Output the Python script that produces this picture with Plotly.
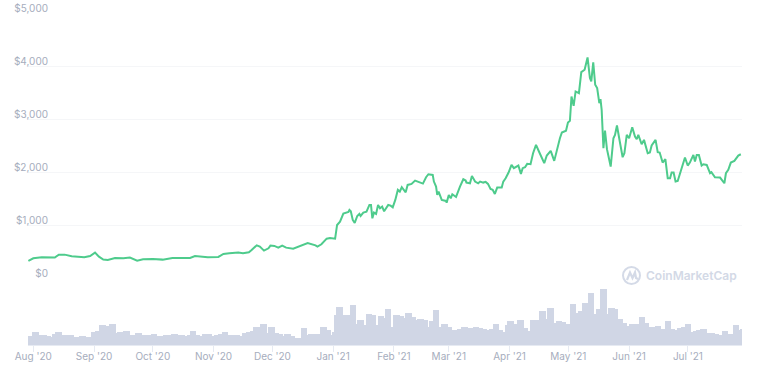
import pandas as pd
import plotly.graph_objects as go

EPOCH = pd.Timestamp("2020-08-01")

price_days = [-2.5,0,4.3,8.5,11,13,16,19.6,23,26,29,31.5,33.5,35.7,38,41.7,46,49.3,53,56,61,66,71,75.7,80,82.5,86,89,94.4,97,100,104.6,107,110,111.4,114,115.6,117.7,120,121,123,125,127,129,132.6,135,138,140,144,145,147,149.7,151.4,154,155,156.5,158.2,
 160.8,161.3,162,163,164,165.3,166.4,167,168.4,170,171.5,172.3,173,173.8,174.9,175.9,176.9,178,179,181.1,182.3,183.4,184.7,186,187,188,190,191,193,194.8,196.8,198.8,200.4,201.6,203.8,204.4,205.5,206.1,206.8,208.4,210.6,210.9,212,213,213.8,215.7,217.7,219.4,220.6,221,222.8,223.8,225.4,227,228,229.6,230.8,232,233.3,234.4,235.5,236.7,239,239.8,241,242.5,
 244,245.2,247.5,248.8,249.7,250.9,252,253.7,255,256.5,258,260.7,262,264,265.8,267.3,268.7,269.7,271.8,272.8,273.8,274.6,275.7,276.7,278.4,279.6,281.3,282.8,284,284.7,285.7,286.7,287.7,288.8,289.4,290,
 290.9,291.7,292.7,294.6,296,296.8,297.8,299.4,300.7,301.6,302.8,304,305.6,307,307.9,308.7,310.4,311.6,313.5,314.6,315.5,317.5,318.6,319.6,321.1,322.5,323.7,324.9,325.7,326.7,327.7,328.8,330.5,332.5,333.9,335,336.8,337.6,338.5,339.6,341,341.9,343.6,345.3,346,347.8,350.4,351.5,352.6,353.4,354.6,355.9,357.7,359.7,361]
price_usd = [327,377,396,396,390,446,446,415,408,396,421,484,408,352,345,383,377,390,333,358,364,352,383,377,383,421,415,396,402,459,471,484,471,490,534,622,597,522,566,616,610,578,616,578,559,597,647,666,622,597,641,747,760,747,1005,1068,1219,
 1251,1288,1263,1100,1043,1175,1213,1175,1238,1257,1383,1383,1131,1238,1213,1383,1320,1351,1263,1383,1370,1339,1477,1666,1634,1716,1621,1760,1779,1842,1817,1785,1905,1961,1949,1823,1729,1571,1634,1477,1458,1426,1571,1508,1584,1533,1729,1867,1842,1804,1791,1930,1823,1791,1823,1804,1817,1779,1684,1666,1590,1710,1710,1823,1886,1993,
 2138,2075,2125,1968,2075,2094,2157,2150,2358,2515,2390,2169,2314,2402,2213,2452,2641,2748,2780,2937,2968,3427,3251,3522,3490,3887,3931,4163,3773,3710,4069,3648,3585,3302,3377,3175,
 2452,2785,2433,2106,2640,2703,2879,2546,2282,2357,2703,2640,2848,2672,2621,2703,2527,2609,2357,2370,2502,2609,2376,2370,2181,2244,1886,1886,1992,1992,1823,1835,2055,2276,2125,2181,2326,2200,2326,2326,2125,2150,2137,1980,1999,1904,1898,1841,1791,1980,2043,2181,2213,2313,2338]

volume_days = [-2.9,-0.8,1.2,3.2,5.3,7.3,9.4,11.4,12.8,14.8,16.8,18.9,21,23,25,27,29,31,33.2,35.2,37.3,38.3,40.3,42.3,44.4,46.4,47.5,49.5,51.5,53.6,55.6,57.7,59.7,61.7,63.8,65.8,67.8,69.9,72,74,76,78,80,81.5,83.5,85.5,87.6,89.6,91.6,93.7,95.7,97.8,99.8,101.8,103.9,106,108,110,112,114,116,117.5,119.5,121.6,
 123.7,125.7,127.8,129.8,131.8,133.9,136,138,140,142,144,146,148,150,152,154,155,156.3,158.4,160.4,163,165,167,169.3,171.3,173.3,175.4,177.4,179.5,181,183,185.2,187.3,189.3,191.4,193.4,195.4,197.5,199.5,201.5,203.6,205.6,207.7,209.7,211.8,213.8,215.8,217.9,219.9,222,224,226,228,230,232,234,236,238,240.3,242.4,
 243.4,245.5,248.7,250.9,253,255,257.7,259.7,261.8,263.8,266.2,268.2,270.3,272.3,275.5,277.6,279.6,281.7,284.6,286.6,288.6,291,293,295,296.8,299.4,301.4,303.4,305.5,307.5,310.6,312.6,314.7,316.7,318.7,320.8,323.8,325.9,328,330,332,334,336,338,340,342,344,346,348,350,353,355,357.5,358.5,360.5,362]
volume_busd = [12.5,13.5,20,15,14.5,13.5,12.5,16,19,15.5,14.5,14.5,12.5,11.5,13,11.5,12.5,20,20.5,31,28.5,20,32.5,17.5,19,17.5,21,15,15,17.5,15.5,15.5,14.5,16,13.5,14,14.5,14.5,16,15.5,15.5,13.5,14.5,21,15,14,16.5,16,13.5,15,17,20,14.5,15,14.5,13.5,18.5,19,21,27.5,21.5,31.5,18.5,27.5,
 17.5,16,13,16,14,10.5,10,26.5,15,16,16,16,27.5,22.5,15,20,46,57.5,45,45,61,32.5,37.5,30,47.5,46,30,44,41,54,27.5,46,44,41,49,42.5,37.5,39,37.5,27.5,36,52.5,27.5,32.5,27.5,23.5,23.5,25,28,26,26,27,26,24,23.5,24.5,32.5,22.5,19,30,
 36,32.5,37.5,26,21,37.5,37.5,51,40,56,34,36,35,32.5,62.5,49,51,64,79,47.5,55,85,47.5,56,54,40,34,29,32.5,32.5,42.5,34,27.5,28,29,25,36.5,25,22.5,26,27.5,32.5,19,21,23.5,24,17.5,18.5,16.5,15,22,16.5,16.5,31,23.5,24]

month_ticks = ["2020-08-01","2020-09-01","2020-10-01","2020-11-01","2020-12-01","2021-01-01",
               "2021-02-01","2021-03-01","2021-04-01","2021-05-01","2021-06-01","2021-07-01"]
month_labels = ["Aug '20","Sep '20","Oct '20","Nov '20","Dec '20","Jan '21",
                "Feb '21","Mar '21","Apr '21","May '21","Jun '21","Jul '21"]
price_ticks = [0,1000,2000,3000,4000,5000]
price_labels = ["$0","$1,000","$2,000","$3,000","$4,000","$5,000"]


def to_dates(days):
    return [EPOCH + pd.Timedelta(days=d) for d in days]


W, H = 757, 370
L, R, T, B = 28, 15, 13, 25
PW, PH = W - L - R, H - T - B
FONT = "Inter, Lato, sans-serif"
TXT = "#a6adbd"

fig = go.Figure()
fig.add_trace(go.Bar(x=to_dates(volume_days), y=volume_busd, yaxis="y2", xaxis="x",
                     width=3.3 * 86400000, marker=dict(color="#d0d6e5", line_width=0),
                     hoverinfo="skip", showlegend=False))
fig.add_trace(go.Scatter(x=to_dates(price_days), y=price_usd, yaxis="y", xaxis="x", mode="lines",
                         line=dict(color="#4ecb8c", width=2), showlegend=False))


def px(x):
    return (x - L) / PW


def py(y):
    return 1 - (y - T) / PH


# CoinMarketCap watermark
LOGO = "#d4dae7"
shapes = [dict(type="circle", xref="paper", yref="paper", x0=px(623), x1=px(640), y0=py(284), y1=py(267),
               line=dict(color=LOGO, width=2))]
pts = [(627, 280), (630, 272.5), (632.5, 278), (635, 272.5), (636, 278), (638, 279)]
path = "M " + " L ".join(f"{px(a):.5f} {py(b):.5f}" for a, b in pts)
shapes.append(dict(type="path", path=path, xref="paper", yref="paper", line=dict(color=LOGO, width=2.2)))

fig.update_layout(
    width=W, height=H, margin=dict(l=L, r=R, t=T, b=B, pad=0, autoexpand=False),
    paper_bgcolor="white", plot_bgcolor="white", bargap=0, showlegend=False,
    font=dict(family=FONT, size=10, color=TXT),
    xaxis=dict(anchor="y2", type="date", automargin=False,
               range=[EPOCH + pd.Timedelta(days=-2.7), EPOCH + pd.Timedelta(days=361.6)],
               tickmode="array", tickvals=month_ticks, ticktext=month_labels,
               showgrid=False, ticks="outside", ticklen=6, tickcolor="#e6eaf2", tickwidth=1,
               showline=True, linecolor="#e6eaf2", linewidth=1, zeroline=False,
               ticklabelstandoff=-4, ticklabeloverflow="allow",
               tickfont=dict(family=FONT, size=10, color=TXT)),
    yaxis=dict(domain=[(H - B - 278.3) / PH, 1], range=[0, 5000], automargin=False,
               tickmode="array", tickvals=price_ticks, ticktext=price_labels,
               showgrid=True, gridcolor="#f5f6f8", gridwidth=1, zeroline=False, showline=False,
               ticks="", ticklabelstandoff=-21, ticklabelshift=-5, ticklabeloverflow="allow",
               tickfont=dict(family=FONT, size=10, color=TXT)),
    yaxis2=dict(domain=[0, 56 / PH], range=[0, 85], showgrid=False, zeroline=False, automargin=False,
                showticklabels=False, ticks="", showline=False),
    shapes=shapes,
    annotations=[dict(text="CoinMarketCap", xref="paper", yref="paper", x=px(691), y=py(275.5),
                      xanchor="center", yanchor="middle", showarrow=False,
                      font=dict(family=FONT, size=12, color="#d3d9e6", weight=600))],
)

fig.write_html("out.html", config={"displayModeBar": False}, post_script="document.body.style.margin='0';")
